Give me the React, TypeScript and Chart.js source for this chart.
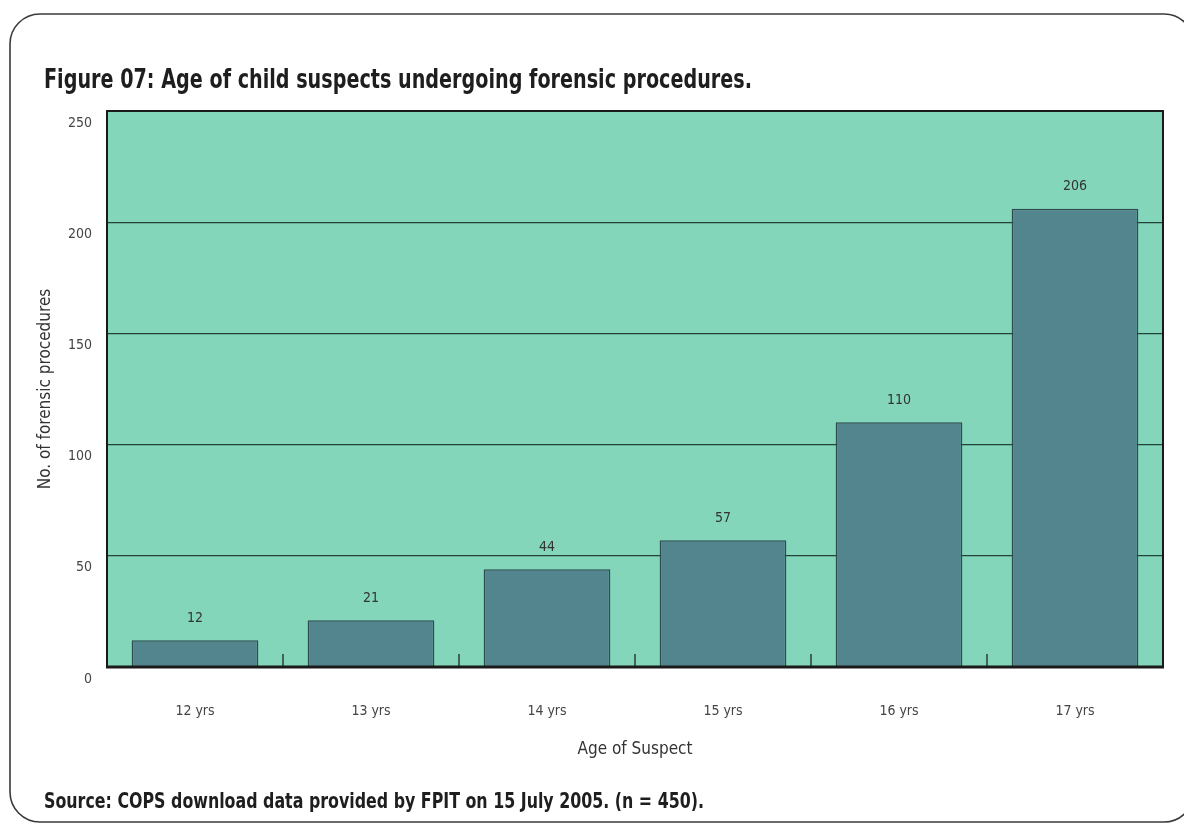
import React, { useEffect, useRef } from "react";
import { Chart, registerables } from "chart.js";

Chart.register(...registerables);

const categories = ["12 yrs", "13 yrs", "14 yrs", "15 yrs", "16 yrs", "17 yrs"];
const counts = [12, 21, 44, 57, 110, 206];
const yMin = 0;
const yMax = 250;
const yStep = 50;
const titleText = "Figure 07: Age of child suspects undergoing forensic procedures.";
const sourceText = "Source: COPS download data provided by FPIT on 15 July 2005. (n = 450).";
const yAxisTitle = "No. of forensic procedures";
const xAxisTitle = "Age of Suspect";

const NARROW = '"Liberation Sans Narrow", "DejaVu Sans Condensed", "Arial Narrow", sans-serif';
const PLOT_BG = "#83d6b9";
const BAR_FILL = "#53858f";
const BAR_EDGE = "#2f4b50";
const GRID = "#23413c";

function drawCondensed(
  ctx: CanvasRenderingContext2D,
  text: string,
  font: string,
  x: number,
  y: number,
  targetWidth: number
) {
  ctx.save();
  ctx.font = font;
  const w = ctx.measureText(text).width;
  const sx = Math.min(1, targetWidth / w);
  ctx.translate(x, y);
  ctx.scale(sx, 1);
  ctx.fillText(text, 0, 0);
  ctx.restore();
}

const decor = {
  id: "decor",
  beforeDraw(chart: any) {
    const { ctx, chartArea } = chart;
    ctx.save();
    ctx.fillStyle = "#ffffff";
    ctx.fillRect(0, 0, chart.width, chart.height);
    // rounded frame (right side runs past the page edge)
    const x0 = 10, y0 = 14, x1 = 1194, y1 = 822, r = 30;
    ctx.beginPath();
    ctx.moveTo(x0 + r, y0);
    ctx.lineTo(x1 - r, y0);
    ctx.arcTo(x1, y0, x1, y0 + r, r);
    ctx.lineTo(x1, y1 - r);
    ctx.arcTo(x1, y1, x1 - r, y1, r);
    ctx.lineTo(x0 + r, y1);
    ctx.arcTo(x0, y1, x0, y1 - r, r);
    ctx.lineTo(x0, y0 + r);
    ctx.arcTo(x0, y0, x0 + r, y0, r);
    ctx.closePath();
    ctx.strokeStyle = "#3a3a3a";
    ctx.lineWidth = 1.6;
    ctx.stroke();
    // plot background
    ctx.fillStyle = PLOT_BG;
    ctx.fillRect(chartArea.left, chartArea.top, chartArea.right - chartArea.left, chartArea.bottom - chartArea.top);
    ctx.restore();
  },
  afterDatasetsDraw(chart: any) {
    const { ctx, chartArea } = chart;
    const xs = chart.scales.x;
    ctx.save();
    // value labels
    const meta = chart.getDatasetMeta(0);
    ctx.fillStyle = "#333333";
    ctx.font = `14px ${NARROW}`;
    ctx.textAlign = "center";
    ctx.textBaseline = "middle";
    meta.data.forEach((bar: any, i: number) => {
      ctx.fillText(String(counts[i]), bar.x, bar.y - 22);
    });
    // interior tick marks at category boundaries
    ctx.strokeStyle = "#2b3d3b";
    ctx.lineWidth = 1.5;
    for (let i = 0; i < categories.length - 1; i++) {
      const bx = (xs.getPixelForValue(i) + xs.getPixelForValue(i + 1)) / 2;
      ctx.beginPath();
      ctx.moveTo(bx, chartArea.bottom);
      ctx.lineTo(bx, chartArea.bottom - 13);
      ctx.stroke();
    }
    // plot border
    ctx.strokeStyle = "#1a1a1a";
    ctx.lineWidth = 2;
    ctx.strokeRect(chartArea.left, chartArea.top, chartArea.right - chartArea.left, chartArea.bottom - chartArea.top);
    ctx.lineWidth = 3;
    ctx.beginPath();
    ctx.moveTo(chartArea.left - 1, chartArea.bottom);
    ctx.lineTo(chartArea.right + 1, chartArea.bottom);
    ctx.stroke();
    // title and source
    ctx.fillStyle = "#1e1e1e";
    ctx.textAlign = "left";
    ctx.textBaseline = "alphabetic";
    drawCondensed(ctx, titleText, `bold 27px ${NARROW}`, 44, 88, 708);
    drawCondensed(ctx, sourceText, `bold 22px ${NARROW}`, 44, 808, 660);
    ctx.restore();
  },
};

export default function App() {
  const ref = useRef<HTMLCanvasElement | null>(null);
  useEffect(() => {
    if (!ref.current) return;
    const chart = new Chart(ref.current, {
      type: "bar",
      data: {
        labels: categories,
        datasets: [
          {
            data: counts,
            backgroundColor: BAR_FILL,
            borderColor: BAR_EDGE,
            borderWidth: 1.5,
            borderSkipped: "bottom",
            barPercentage: 0.72,
            categoryPercentage: 1,
          },
        ],
      },
      options: {
        responsive: false,
        animation: false,
        devicePixelRatio: 1,
        layout: { padding: { left: 30, right: 21, top: 111, bottom: 58 } },
        plugins: {
          legend: { display: false },
          tooltip: { enabled: false },
          title: { display: false },
        },
        scales: {
          x: {
            grid: { display: false, drawTicks: false },
            border: { display: false },
            ticks: {
              padding: 36,
              color: "#444444",
              font: { family: NARROW, size: 14 },
              maxRotation: 0,
            },
            title: {
              display: true,
              text: xAxisTitle,
              color: "#333333",
              font: { family: NARROW, size: 17 },
              padding: { top: 0, bottom: 7 },
            },
            afterFit(scale: any) {
              scale.height = 100;
            },
          },
          y: {
            min: yMin,
            max: yMax,
            grid: { color: GRID, lineWidth: 1.3, drawTicks: false },
            border: { display: false },
            ticks: {
              stepSize: yStep,
              padding: 15,
              labelOffset: 12,
              color: "#444444",
              font: { family: NARROW, size: 14 },
            },
            title: {
              display: true,
              text: yAxisTitle,
              color: "#333333",
              font: { family: NARROW, size: 17 },
              padding: { top: 5, bottom: 0 },
            },
            afterFit(scale: any) {
              scale.width = 77;
            },
          },
        },
      },
      plugins: [decor],
    });
    return () => chart.destroy();
  }, []);
  return (
    <div style={{ position: "fixed", left: 0, top: 0, width: 1184, height: 825 }}>
      <canvas ref={ref} width={1184} height={825} style={{ display: "block" }} />
    </div>
  );
}
